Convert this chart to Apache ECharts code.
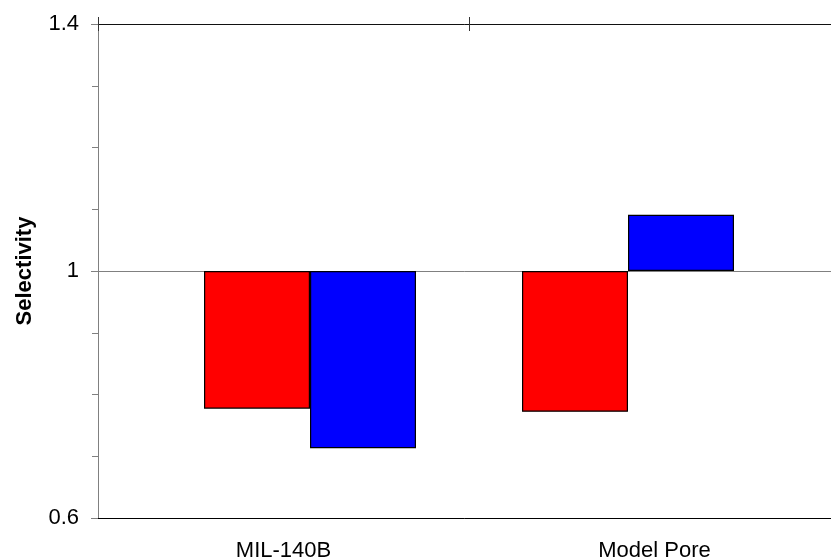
<!DOCTYPE html>
<html>
<head>
<meta charset="utf-8">
<script src="https://cdn.jsdelivr.net/npm/echarts@6/dist/echarts.min.js"></script>
<style>
html,body{margin:0;padding:0;background:#fff;}
#chart{width:831px;height:559px;}
</style>
</head>
<body>
<div id="chart"></div>
<script>
// Data
const categories = ['MIL-140B', 'Model Pore'];
const redValues = [0.777, 0.772];
const blueValues = [0.713, 1.091];
const yTickLabels = ['0.6', '1', '1.4'];
const yMin = 0.6, yMax = 1.4, yStep = 0.4;
const baseline = 1; // bars grow from this value

// axis range expressed relative to the baseline so bars start at 1
const relMin = +(yMin - baseline).toFixed(3);
const relMax = +(yMax - baseline).toFixed(3);
const toRel = arr => arr.map(v => +(v - baseline).toFixed(4));
const fmt = v => yTickLabels[Math.round((v - relMin) / yStep)] || '';

const FONT = 'Liberation Sans, Arial, sans-serif';
const chart = echarts.init(document.getElementById('chart'));
chart.setOption({
  animation: false,
  backgroundColor: '#fff',
  grid: [
    {left: 98, top: 24, width: 742, bottom: 41, outerBoundsMode: 'none', containLabel: false},
    {left: 151, top: 24, width: 636, bottom: 41, outerBoundsMode: 'none', containLabel: false}
  ],
  xAxis: [
    { // bottom labels
      gridIndex: 0, type: 'category', data: categories, position: 'bottom',
      axisLine: {onZero: false, lineStyle: {color: '#000', width: 1}},
      axisTick: {show: false},
      axisLabel: {color: '#000', fontFamily: FONT, fontSize: 22, margin: 22},
      splitLine: {show: false}
    },
    { // top line with outer ticks at category boundaries
      gridIndex: 0, type: 'category', data: categories, position: 'top',
      axisLine: {onZero: false, lineStyle: {color: '#111', width: 1}},
      axisTick: {show: true, interval: 0, length: 7, lineStyle: {color: '#333'}},
      axisLabel: {show: false}, splitLine: {show: false}
    },
    { // inner part of top ticks
      gridIndex: 0, type: 'category', data: categories, position: 'top',
      axisLine: {show: false, onZero: false},
      axisTick: {show: true, inside: true, interval: 0, length: 7, lineStyle: {color: '#333'}},
      axisLabel: {show: false}, splitLine: {show: false}
    },
    { // line at the baseline value
      gridIndex: 0, type: 'category', data: categories, position: 'bottom',
      axisLine: {show: true, onZero: true, onZeroAxisIndex: 0, lineStyle: {color: '#808080', width: 1}},
      axisTick: {show: false}, axisLabel: {show: false}, splitLine: {show: false}
    },
    { // bars axis (hidden)
      gridIndex: 1, type: 'category', data: categories, show: false
    }
  ],
  yAxis: [
    {
      gridIndex: 0, type: 'value', min: relMin, max: relMax, interval: yStep,
      name: 'Selectivity', nameLocation: 'middle', nameGap: 62, nameRotate: 90,
      nameTextStyle: {color: '#000', fontFamily: FONT, fontSize: 22, fontWeight: 'bold'},
      axisLine: {show: true, onZero: false, lineStyle: {color: '#808080', width: 1}},
      axisTick: {show: true, length: 7, lineStyle: {color: '#808080'}},
      minorTick: {show: true, splitNumber: 4, length: 6, lineStyle: {color: '#808080'}},
      axisLabel: {color: '#000', fontFamily: FONT, fontSize: 22, margin: 19, formatter: fmt},
      splitLine: {show: false}
    },
    {
      gridIndex: 1, type: 'value', min: relMin, max: relMax, interval: yStep, show: false,
      splitLine: {show: false}
    }
  ],
  series: [
    {
      type: 'bar', xAxisIndex: 4, yAxisIndex: 1, data: toRel(redValues),
      barWidth: 106, barGap: '0%',
      itemStyle: {color: '#FF0000', borderColor: '#000', borderWidth: 1.2}
    },
    {
      type: 'bar', xAxisIndex: 4, yAxisIndex: 1, data: toRel(blueValues),
      barWidth: 106, barGap: '0%',
      itemStyle: {color: '#0000FF', borderColor: '#000', borderWidth: 1.2}
    }
  ]
});
</script>
</body>
</html>
